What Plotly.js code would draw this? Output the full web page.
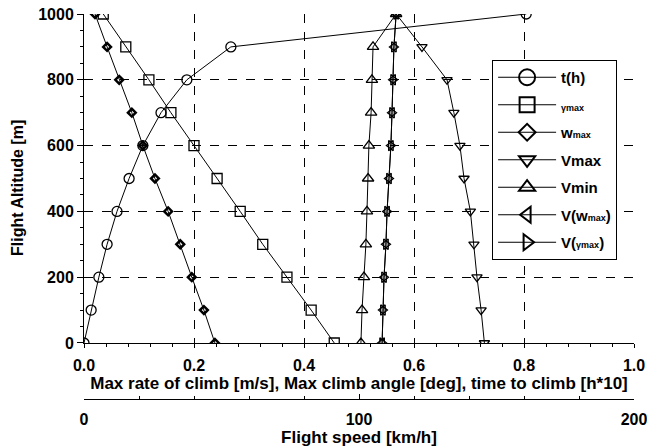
<!DOCTYPE html>
<html>
<head>
<meta charset="utf-8">
<script src="https://cdn.plot.ly/plotly-3.0.1.min.js"></script>
<style>html,body{margin:0;padding:0;background:#fff;}#chart{width:647px;height:447px;}</style>
</head>
<body>
<div id="chart"></div>
<script>
// Flight altitude [m]
const altitude = [0, 100, 200, 300, 400, 500, 600, 700, 800, 900, 1000];
// time to climb [h*10]
const timeToClimb = [0, 0.013, 0.027, 0.042, 0.060, 0.082, 0.107, 0.140, 0.187, 0.267, 0.804];
// max climb angle [deg]
const gammaMax = [0.455, 0.413, 0.369, 0.325, 0.284, 0.242, 0.200, 0.158, 0.118, 0.076, 0.035];
// max rate of climb [m/s]
const wMax = [0.238, 0.218, 0.196, 0.175, 0.153, 0.129, 0.107, 0.087, 0.064, 0.042, 0.020];
// speeds [km/h]
const vMax = [145.6, 144.4, 142.9, 141.8, 140.5, 138.2, 136.7, 134.5, 132.0, 122.9, 113.5];
const vMin = [100.7, 101.1, 101.8, 102.5, 102.9, 103.3, 103.6, 104.4, 104.7, 105.1, 113.5];
const vAtWMax = [108.4, 108.7, 109.1, 109.8, 110.2, 110.9, 111.6, 112.0, 112.4, 112.7, 113.5];
const vAtGammaMax = [108.4, 108.7, 109.1, 109.8, 110.2, 110.9, 111.6, 112.0, 112.4, 112.7, 113.5];

const speedTicks = [0, 100, 200];

const seriesNames = ['t(h)', "<span style='font-size:9px'>γmax</span>", "w<span style='font-size:9px'>max</span>",
  'Vmax', 'Vmin', "V(w<span style='font-size:9px'>max</span>)", "V(<span style='font-size:9px'>γmax</span>)"];

const FONT = 'Liberation Sans, Arial, sans-serif';

function tr(x, i, symbol, size, xa, lw) {
  return {
    x: x, y: altitude, name: seriesNames[i], type: 'scatter', mode: 'lines+markers',
    xaxis: xa, yaxis: 'y', showlegend: false,
    line: {color: '#000', width: 1},
    marker: {symbol: symbol, size: size, color: '#000', line: {color: '#000', width: lw}}
  };
}
// legend-only entries (no data points), with larger symbols as in the reference legend
function lg(i, symbol, size, lw) {
  return {
    x: [null], y: [null], name: seriesNames[i], type: 'scatter', mode: 'lines+markers',
    xaxis: 'x', yaxis: 'y', legendgroup: 'g' + i, hoverinfo: 'skip',
    line: {color: '#000', width: 1},
    marker: {symbol: symbol, size: size, color: '#000', line: {color: '#000', width: lw}}
  };
}

const data = [
  tr(timeToClimb, 0, 'circle-open', 10, 'x', 1.3),
  tr(gammaMax, 1, 'square-open', 10, 'x', 1.3),
  tr(wMax, 2, 'diamond-open', 6, 'x', 2.5),
  tr(vMax, 3, 'triangle-down-open', 9, 'x2', 1.3),
  tr(vMin, 4, 'triangle-up-open', 10, 'x2', 1.3),
  tr(vAtWMax, 5, 'triangle-left-open', 9, 'x2', 1.3),
  tr(vAtGammaMax, 6, 'triangle-right-open', 9, 'x2', 1.3),
  lg(0, 'circle-open', 18, 2),
  lg(1, 'square-open', 15, 2),
  lg(2, 'diamond-open', 13, 2),
  lg(3, 'triangle-down-open', 14, 2),
  lg(4, 'triangle-up-open', 14, 2),
  lg(5, 'triangle-left-open', 14, 2),
  lg(6, 'triangle-right-open', 14, 2)
];

const tickFont = {family: FONT, size: 16, color: '#000', weight: 'bold'};
const titleFont = {family: FONT, size: 17, color: '#000', weight: 'bold'};

const layout = {
  width: 647, height: 447,
  margin: {l: 84, r: 13, t: 14, b: 48},
  paper_bgcolor: '#fff', plot_bgcolor: '#fff',
  showlegend: true,
  font: {family: FONT, color: '#000'},
  xaxis: {
    range: [0, 1], anchor: 'y', dtick: 0.2, tick0: 0, tickformat: '.1f',
    showline: true, linecolor: '#000', linewidth: 1,
    ticks: 'outside', ticklen: 4, tickcolor: '#000',
    minor: {dtick: 0.04, ticks: 'outside', ticklen: 3, tickcolor: '#000', showgrid: false},
    showgrid: true, gridcolor: '#000', griddash: 'dash', gridwidth: 1,
    zeroline: false, tickfont: tickFont, ticklabelstandoff: 4,
    title: {text: 'Max rate of climb [m/s], Max climb angle [deg], time to climb [h*10]', font: titleFont, standoff: 0}
  },
  xaxis2: {
    range: [0, 200], overlaying: 'x', anchor: 'free', position: 0, side: 'bottom',
    tickmode: 'array', tickvals: speedTicks, ticktext: speedTicks.map(String),
    ticklabeloverflow: 'allow',
    showline: true, linecolor: '#000', linewidth: 1,
    ticks: 'inside', ticklen: 5, tickcolor: '#000',
    minor: {dtick: 20, tick0: 0, ticks: 'inside', ticklen: 3, tickcolor: '#000', showgrid: false},
    showgrid: false, zeroline: false, tickfont: tickFont, ticklabelstandoff: 6,
    title: {text: 'Flight speed [km/h]', font: titleFont, standoff: 2}
  },
  yaxis: {
    domain: [0.1455, 1], range: [0, 1000], dtick: 200, tick0: 0,
    showline: true, linecolor: '#000', linewidth: 1,
    ticks: 'outside', ticklen: 6, tickcolor: '#000',
    minor: {dtick: 50, ticks: 'outside', ticklen: 3, tickcolor: '#000', showgrid: false},
    showgrid: true, gridcolor: '#000', griddash: 'dash', gridwidth: 1,
    zeroline: false, tickfont: tickFont
  },
  annotations: [{
    text: 'Flight Altitude [m]', xref: 'paper', yref: 'paper',
    x: -0.1218, y: 0.548, xanchor: 'center', yanchor: 'middle', textangle: -90,
    showarrow: false, font: {family: FONT, size: 16, color: '#000', weight: 'bold'}
  }],
  legend: {
    x: 0.742, y: 0.8805, xanchor: 'left', yanchor: 'top',
    bgcolor: '#fff', bordercolor: '#000', borderwidth: 1,
    font: {family: FONT, size: 15, color: '#000', weight: 'bold'},
    tracegroupgap: 5, itemwidth: 58
  }
};

Plotly.newPlot('chart', data, layout, {displayModeBar: false, staticPlot: true});
</script>
</body>
</html>
